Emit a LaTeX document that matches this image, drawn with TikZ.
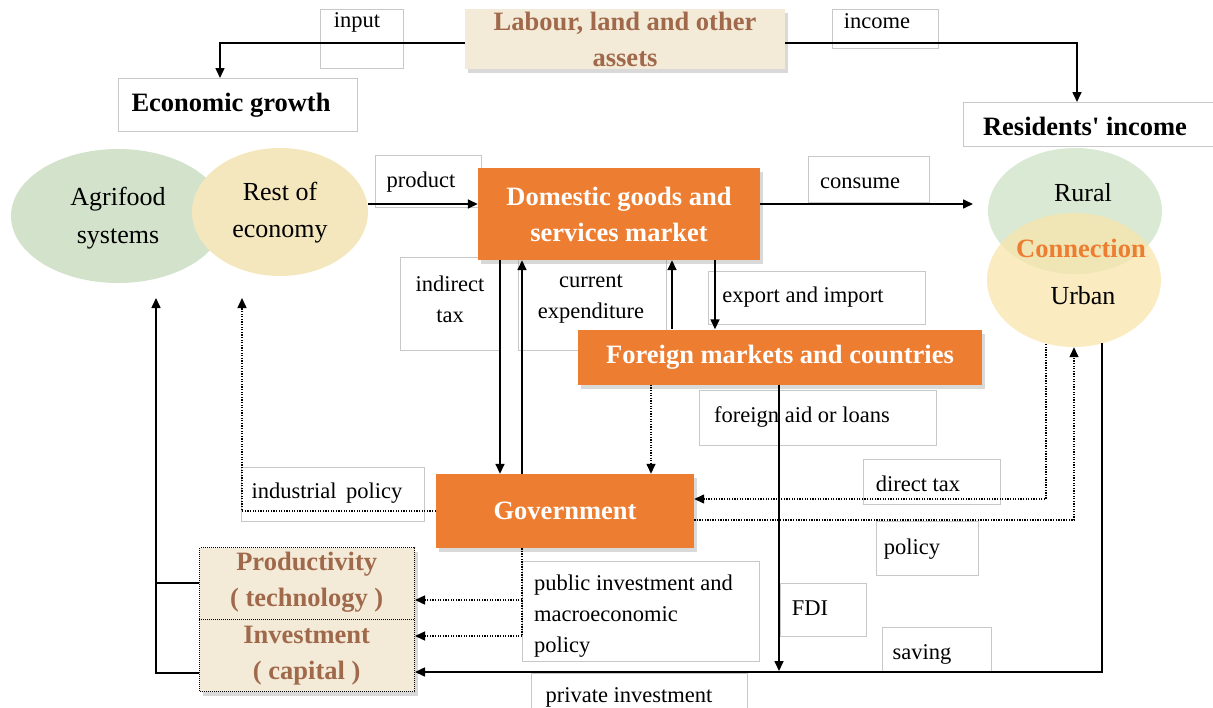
\documentclass[tikz,border=0pt]{standalone}
\usepackage{fontspec}
\setmainfont{Liberation Serif}
\usetikzlibrary{arrows.meta,shapes.geometric,shadows,calc}
\definecolor{flow}{HTML}{ED7D31}
\definecolor{sand}{HTML}{F3EAD7}
\definecolor{umber}{HTML}{A0694B}
\definecolor{tagline}{HTML}{C8C8C8}
\definecolor{agri}{HTML}{D3E2CA}
\definecolor{restc}{HTML}{F5E7BD}
\definecolor{ruralc}{HTML}{DAE9D3}
\definecolor{urbanc}{HTML}{F8E4AB}
\newcommand\tagbox[5]{\node[tagframe, minimum width=#4, minimum height=#5] (#1) at (#2,#3) {};}
\begin{document}
\begin{tikzpicture}[x=1pt,y=-1pt,
  conn/.style={line width=1.6pt, -{Triangle[length=10pt,width=9pt]}},
  connplain/.style={line width=1.6pt},
  dotconn/.style={line width=1.4pt, dash pattern=on 1.3pt off 1.3pt, -{Triangle[length=10pt,width=9pt]}},
  dotplain/.style={line width=1.4pt, dash pattern=on 1.3pt off 1.3pt},
  tagframe/.style={draw=tagline, line width=0.9pt, fill=white, inner sep=0pt, anchor=north west},
  tagtext/.style={font=\fontsize{22.5}{31}\selectfont, inner sep=0pt, align=center},
  headtext/.style={font=\bfseries\fontsize{26.5}{36}\selectfont, inner sep=0pt, align=center},
  blob/.style={ellipse, inner sep=0pt, draw=none},
  blobtext/.style={font=\fontsize{26}{38}\selectfont, inner sep=0pt, align=center},
  flowbox/.style={fill=flow, text=white, font=\bfseries\fontsize{26.5}{36}\selectfont,
    align=center, inner sep=0pt,
    drop shadow={opacity=0.3, shadow xshift=3pt, shadow yshift=-4pt}},
  sandbox/.style={fill=sand, text=umber, font=\bfseries\fontsize{26.5}{36}\selectfont,
    align=center, inner sep=0pt,
    drop shadow={opacity=0.3, shadow xshift=3pt, shadow yshift=-4pt}},
  sandtext/.style={text=umber, font=\bfseries\fontsize{26.5}{36}\selectfont,
    align=center, inner sep=0pt, anchor=north west},
]
\useasboundingbox (0,0) rectangle (1213,707);
\begin{scope}
\clip (0,9) rectangle (1213,707);

% sectors of the economy
\node[blob, fill=agri, minimum width=214, minimum height=134] (agri) at (118,216) {};
\node[blob, fill=restc, minimum width=176, minimum height=128] (rest) at (280,212) {};
\node[blobtext] (agriT) at (118,218) {Agrifood\\systems};
\node[blobtext, font=\fontsize{26}{37}\selectfont] (restT) at (280,213) {Rest of\\economy};

% residents: rural and urban
\node[blob, fill=ruralc, minimum width=174, minimum height=126] (rural) at (1075,211) {};
\node[blob, fill=urbanc, fill opacity=0.75, minimum width=174, minimum height=134] (urban) at (1074,280) {};
\node[blobtext] (ruralT) at (1083,193) {Rural};
\node[blobtext] (urbanT) at (1083,296) {Urban};
\node[headtext, text=flow] (connT) at (1081,248) {Connection};

% label frames
\tagbox{inputB}{320}{9}{83}{59}
\tagbox{incomeB}{832}{9}{106}{39}
\tagbox{econ}{118}{78}{239}{53}
\tagbox{resbox}{963}{102}{260}{44}
\tagbox{productB}{375}{155}{106}{52}
\tagbox{consumeB}{808}{156}{121}{46}
\tagbox{itaxB}{400}{257}{100}{93}
\tagbox{curB}{518}{257}{148}{93}
\tagbox{expB}{708}{271}{217}{53}
\tagbox{aidB}{699}{390}{237}{55}
\tagbox{indB}{241}{467}{183}{54}
\tagbox{dtaxB}{863}{459}{137}{45}
\tagbox{polB}{876}{521}{102}{54}
\tagbox{pubB}{522}{561}{237}{100}
\tagbox{fdiB}{780}{583}{86}{53}
\tagbox{savB}{882}{627}{109}{45}
\tagbox{privB}{531}{673}{216}{50}

% label texts
\node[tagtext] (inputT) at (357,22) {input};
\node[tagtext] (incomeT) at (877,21) {income};
\node[headtext] (econT) at (231,105) {Economic growth};
\node[headtext] (resT) at (1085,126) {Residents\textquotesingle\ income};
\node[tagtext] (productT) at (421,182) {product};
\node[tagtext] (consumeT) at (860,183) {consume};
\node[tagtext] (itaxT) at (450,299) {indirect\\tax};
\node[tagtext] (curT) at (591,299) {current\\expenditure};
\node[tagtext] (expT) at (803,297) {export and import};
\node[tagtext] (aidT) at (802,417) {foreign aid or loans};
\node[tagtext] (indT) at (327,493) {industrial\, policy};
\node[tagtext] (dtaxT) at (918,484) {direct tax};
\node[tagtext] (polT) at (912,549) {policy};
\node[tagtext, anchor=west, align=left] (pubT) at (534,616) {public investment and\\macroeconomic\\policy};
\node[tagtext] (fdiT) at (810,608) {FDI};
\node[tagtext] (savT) at (922,654) {saving};
\node[tagtext] (privT) at (629,697) {private investment};

% main actors
\node[sandbox, minimum width=320, minimum height=60] (labour) at (625,39) {Labour, land and other\\assets};
\node[flowbox, minimum width=282, minimum height=92] (dom) at (619,214) {Domestic goods and\\services market};
\node[flowbox, minimum width=404, minimum height=55] (foreign) at (780,357) {Foreign markets and countries};
\node[flowbox, minimum width=258, minimum height=74] (gov) at (565,511) {Government};
\node[sandbox, draw=black, line width=1pt, dash pattern=on 1pt off 1pt, anchor=north west,
  minimum width=215, minimum height=144] (stack) at (199,547) {};
\node[sandtext, minimum width=215, minimum height=71] (prodbox) at (199,547) {Productivity\\( technology )};
\node[sandtext, minimum width=215, minimum height=73] (invbox) at (199,619) {Investment\\( capital )};
\draw[line width=1pt, dash pattern=on 1pt off 1pt] (stack.west |- invbox.north) -- (stack.east |- invbox.north);

% turning points of the connectors
\coordinate (inTurn) at (220,43);
\coordinate (incTurn) at (1077,43);
\coordinate (prodY) at (0,204);
\coordinate (consEnd) at (973,204);
\coordinate (xIT) at (500,0);
\coordinate (xCE) at (522,0);
\coordinate (xUp) at (672,0);
\coordinate (xDown) at (715,0);
\coordinate (xAid) at (651,0);
\coordinate (xFDI) at (779,0);
\coordinate (fdiEnd) at (779,671);
\coordinate (indEnd) at (242,298);
\coordinate (growthEnd) at (156,298);
\coordinate (capY) at (0,673);
\coordinate (pubTurn) at (522,636);
\coordinate (pubFork) at (522,600);
\coordinate (dtStart) at (1046,344);
\coordinate (dtTurn) at (1046,499);
\coordinate (polY) at (0,520);
\coordinate (savStart) at (1102,343);
\coordinate (savTurn) at (1102,672);

% flows
\draw[conn] ($(labour.west)+(0,4)$) -- (inTurn) -- (inTurn |- econ.north);
\draw[conn] ($(labour.east)+(0,4)$) -- (incTurn) -- (incTurn |- resbox.north);
\draw[conn] (rest.east |- prodY) -- (dom.west |- prodY);
\draw[conn] (dom.east |- prodY) -- (consEnd);
\draw[conn] (dom.south -| xIT) -- (gov.north -| xIT);
\draw[conn] (gov.north -| xCE) -- (dom.south -| xCE);
\draw[conn] (foreign.north -| xUp) -- (dom.south -| xUp);
\draw[conn] (dom.south -| xDown) -- (foreign.north -| xDown);
\draw[dotconn] (foreign.south -| xAid) -- (gov.north -| xAid);
\draw[conn] (foreign.south -| xFDI) -- (fdiEnd);
\draw[dotconn] (gov.west) -| (indEnd);
\draw[connplain] (stack.west |- prodbox.west) -- (prodbox.west -| growthEnd);
\draw[conn] (stack.west |- capY) -| (growthEnd);
\draw[dotplain] (gov.south -| pubTurn) -- (pubTurn);
\draw[dotconn] (pubTurn) -- (stack.east |- pubTurn);
\draw[dotconn] (pubFork) -- (stack.east |- pubFork);
\draw[dotconn] (dtStart) -- (dtTurn) -- (gov.east |- dtTurn);
\draw[dotconn] (gov.east |- polY) -| (urban.south);
\draw[conn] (savStart) -- (savTurn) -- (stack.east |- savTurn);
\end{scope}
\end{tikzpicture}
\end{document}
